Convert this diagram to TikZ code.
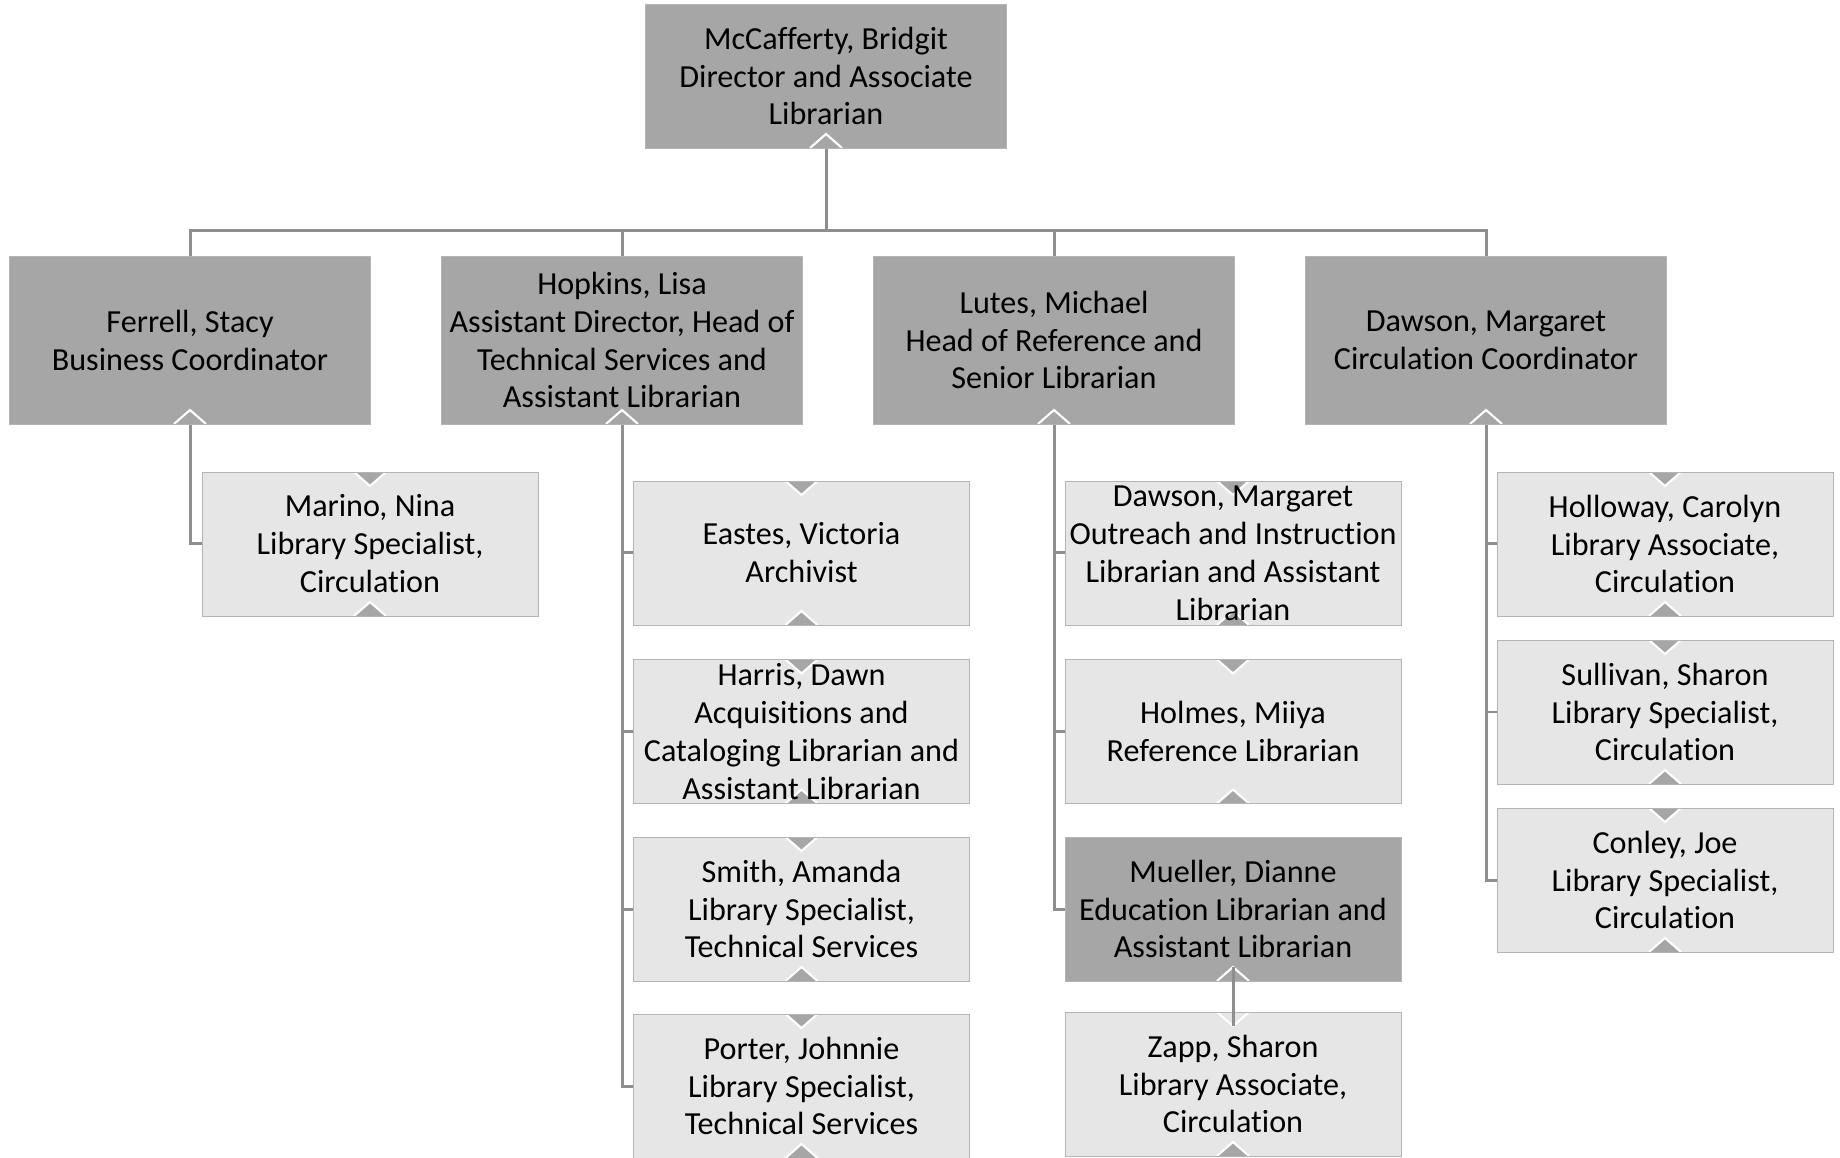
\documentclass[tikz,border=0pt]{standalone}
\usepackage{fontspec}
\setmainfont{Carlito}[Ligatures=NoCommon]
\usepackage{tikz}
\usetikzlibrary{positioning, calc, backgrounds}
\definecolor{HeadGray}{RGB}{166,166,166}
\definecolor{StaffGray}{RGB}{230,230,230}
\definecolor{EdgeGray}{RGB}{180,180,180}
\definecolor{LinkGray}{RGB}{142,142,142}
\tikzset{
    headnode/.style={
        rectangle, draw=EdgeGray, line width=0.5pt, fill=HeadGray, inner sep=0pt,
        minimum width=7.22cm, minimum height=3.36cm, align=center,
        font=\fontsize{18.3pt}{21.6pt}\selectfont,
        path picture={
            \draw[white, line width=1.2pt] ([xshift=-0.32cm]path picture bounding box.south) -- ++(0.32cm,0.28cm) -- ++(0.32cm,-0.28cm);
        }
    },
    staffnode/.style={
        rectangle, draw=EdgeGray, line width=0.5pt, fill=StaffGray, inner sep=0pt,
        minimum width=6.72cm, minimum height=2.88cm, align=center,
        font=\fontsize{18.3pt}{21.6pt}\selectfont,
        path picture={
            \filldraw[fill=HeadGray, draw=white, line width=1.2pt] ([xshift=-0.32cm]path picture bounding box.north) -- ++(0.32cm,-0.28cm) -- ++(0.32cm,0.28cm);
            \filldraw[fill=HeadGray, draw=white, line width=1.2pt] ([xshift=-0.32cm]path picture bounding box.south) -- ++(0.32cm,0.28cm) -- ++(0.32cm,-0.28cm);
        }
    },
    link/.style={
        draw=LinkGray, line width=0.06cm
    }
}

\begin{document}
\begin{tikzpicture}[x=0.02cm, y=-0.02cm]
\useasboundingbox (0,0) rectangle (1840,1158);

% director
\node[headnode, minimum height=2.88cm] (top) at (826,76) {McCafferty, Bridgit\\Director and Associate\\Librarian};

% second row
\node[headnode] (ferrell) at (190,340) {Ferrell, Stacy\\Business Coordinator};
\node[headnode] (hopkins) at (622,340) {Hopkins, Lisa\\Assistant Director, Head of\\Technical Services and\\Assistant Librarian};
\node[headnode] (lutes) at (1054,340) {Lutes, Michael\\Head of Reference and\\Senior Librarian};
\node[headnode] (dawson) at (1486,340) {Dawson, Margaret\\Circulation Coordinator};

% staff
\node[staffnode] (marino) at (370,544) {Marino, Nina\\Library Specialist,\\Circulation};

\node[staffnode] (eastes) at (801.5,553) {Eastes, Victoria\\Archivist};
\node[staffnode] (harris) at (801.5,731.5) {Harris, Dawn\\Acquisitions and\\Cataloging Librarian and\\Assistant Librarian};
\node[staffnode] (smith) at (801.5,909) {Smith, Amanda\\Library Specialist,\\Technical Services};
\node[staffnode] (porter) at (801.5,1086) {Porter, Johnnie\\Library Specialist,\\Technical Services};

\node[staffnode] (outreach) at (1233,553) {Dawson, Margaret\\Outreach and Instruction\\Librarian and Assistant\\Librarian};
\node[staffnode] (holmes) at (1233,731.5) {Holmes, Miiya\\Reference Librarian};
\node[headnode, minimum width=6.72cm, minimum height=2.88cm] (mueller) at (1233,909) {Mueller, Dianne\\Education Librarian and\\Assistant Librarian};
\node[staffnode, path picture={
        \draw[white, line width=1.2pt] ([xshift=-0.32cm]path picture bounding box.north) -- ++(0.32cm,-0.28cm) -- ++(0.32cm,0.28cm);
        \filldraw[fill=HeadGray, draw=white, line width=1.2pt] ([xshift=-0.32cm]path picture bounding box.south) -- ++(0.32cm,0.28cm) -- ++(0.32cm,-0.28cm);
    }] (zapp) at (1233,1084) {Zapp, Sharon\\Library Associate,\\Circulation};

\node[staffnode] (holloway) at (1665,544) {Holloway, Carolyn\\Library Associate,\\Circulation};
\node[staffnode] (sullivan) at (1665,712) {Sullivan, Sharon\\Library Specialist,\\Circulation};
\node[staffnode] (conley) at (1665,880) {Conley, Joe\\Library Specialist,\\Circulation};

% connectors
\coordinate (bus) at (826,231);
\begin{scope}[on background layer]
    \draw[link] (top.south) -- (bus);
    \draw[link] (ferrell.north) |- (bus) -| (dawson.north);
    \draw[link] (hopkins.north) -- (hopkins.north |- bus);
    \draw[link] (lutes.north) -- (lutes.north |- bus);
    \draw[link] (ferrell.south) |- (marino.west);
    \draw[link] (hopkins.south) |- (porter.west);
    \foreach \n in {eastes, harris, smith}
        \draw[link] (hopkins.south |- \n.west) -- (\n.west);
    \draw[link] (lutes.south) |- (mueller.west);
    \foreach \n in {outreach, holmes}
        \draw[link] (lutes.south |- \n.west) -- (\n.west);
    \draw[link] (dawson.south) |- (conley.west);
    \foreach \n in {holloway, sullivan}
        \draw[link] (dawson.south |- \n.west) -- (\n.west);
\end{scope}
\draw[link] ([yshift=0.28cm]mueller.south) -- ([yshift=-0.28cm]zapp.north);
\end{tikzpicture}
\end{document}
